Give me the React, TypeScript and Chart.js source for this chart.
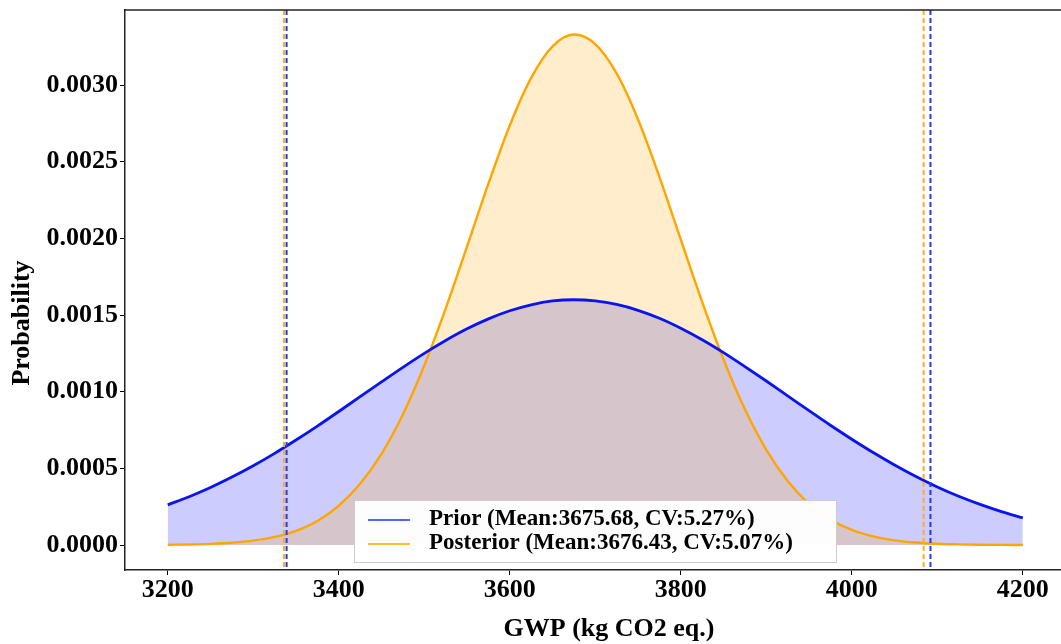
import React, { useEffect, useRef } from 'react';
import { Chart, registerables } from 'chart.js';

Chart.register(...registerables);

// GWP sample positions (kg CO2 eq.)
const gwp = [
  3200, 3225, 3250, 3275, 3300, 3325, 3350, 3375, 3400, 3425, 3450, 3475, 3500, 3525,
  3550, 3575, 3600, 3625, 3650, 3675, 3700, 3725, 3750, 3775, 3800, 3825, 3850, 3875,
  3900, 3925, 3950, 3975, 4000, 4025, 4050, 4075, 4100, 4125, 4150, 4175, 4200,
];

// Prior probability density
const prior = [
  0.000262, 0.000315, 0.000375, 0.000443, 0.000517, 0.000598, 0.000685, 0.000776,
  0.000871, 0.000968, 0.001064, 0.001159, 0.00125, 0.001334, 0.00141, 0.001475,
  0.001528, 0.001567, 0.001592, 0.0016, 0.001592, 0.001569, 0.001531, 0.001479,
  0.001414, 0.001339, 0.001255, 0.001164, 0.00107, 0.000973, 0.000876, 0.000781,
  0.00069, 0.000603, 0.000522, 0.000447, 0.000379, 0.000318, 0.000265, 0.000218,
  0.000177,
];

// Posterior probability density
const posterior = [
  0.0000016, 0.0000036, 0.0000074, 0.0000148, 0.0000285, 0.0000526, 0.0000929, 0.000157,
  0.000256, 0.000399, 0.000595, 0.000852, 0.001171, 0.001542, 0.001947, 0.002357,
  0.002737, 0.003047, 0.003253, 0.00333, 0.003268, 0.003076, 0.002776, 0.002402,
  0.001993, 0.001586, 0.00121, 0.000885, 0.000621, 0.000418, 0.000269, 0.000167,
  0.0000988, 0.0000562, 0.0000306, 0.000016, 0.000008, 0.0000039, 0.0000018, 0.0000008,
  0.0000003,
];

// Interval bounds (dashed vertical lines)
const priorBounds = [3339, 4092];
const posteriorBounds = [3336, 4084];

const xTicks = [3200, 3400, 3600, 3800, 4000, 4200];
const yTicks = [0, 0.0005, 0.001, 0.0015, 0.002, 0.0025, 0.003];

const legendLabels = ['Prior (Mean:3675.68, CV:5.27%)', 'Posterior (Mean:3676.43, CV:5.07%)'];
const xTitle = 'GWP (kg CO2 eq.)';
const yTitle = 'Probability';

const FONT = "'Liberation Serif', 'Times New Roman', serif";
const BLUE = '#0a14ee';
const ORANGE = '#ffa500';

export default function App() {
  const ref = useRef<HTMLCanvasElement | null>(null);

  useEffect(() => {
    if (!ref.current) return;

    const overlay = {
      id: 'overlay',
      afterDatasetsDraw(chart: any) {
        const { ctx, chartArea, scales } = chart;
        const xs = scales.x;
        ctx.save();
        ctx.lineWidth = 2;
        ctx.setLineDash([5, 3]);
        const draw = (v: number, c: string) => {
          const px = xs.getPixelForValue(v);
          ctx.strokeStyle = c;
          ctx.beginPath();
          ctx.moveTo(px, chartArea.top);
          ctx.lineTo(px, chartArea.bottom);
          ctx.stroke();
        };
        posteriorBounds.forEach((v) => draw(v, '#ffad1a'));
        priorBounds.forEach((v) => draw(v, '#2238ff'));
        ctx.restore();
      },
      afterDraw(chart: any) {
        const { ctx, chartArea } = chart;
        ctx.save();
        // top border
        ctx.strokeStyle = '#222';
        ctx.lineWidth = 1.5;
        ctx.beginPath();
        ctx.moveTo(chartArea.left, chartArea.top);
        ctx.lineTo(chart.width, chartArea.top);
        ctx.stroke();

        // legend
        const lx = 354, ly = 500, lw = 482, lh = 62;
        ctx.fillStyle = 'rgba(255,255,255,0.96)';
        ctx.fillRect(lx, ly, lw, lh);
        ctx.strokeStyle = '#cccccc';
        ctx.lineWidth = 1;
        ctx.strokeRect(lx + 0.5, ly + 0.5, lw, lh);
        const colors = ['#4d66ff', '#ffbf26'];
        const rows = [520, 544];
        ctx.font = `bold 23px ${FONT}`;
        ctx.textBaseline = 'middle';
        ctx.textAlign = 'left';
        legendLabels.forEach((t, i) => {
          ctx.strokeStyle = colors[i];
          ctx.lineWidth = 2;
          ctx.beginPath();
          ctx.moveTo(368, rows[i]);
          ctx.lineTo(410, rows[i]);
          ctx.stroke();
          ctx.fillStyle = '#000';
          ctx.fillText(t, 429, rows[i] - 1);
        });

        // axis titles
        ctx.font = `bold 26px ${FONT}`;
        ctx.fillStyle = '#000';
        ctx.textAlign = 'center';
        ctx.textBaseline = 'middle';
        ctx.fillText(xTitle, 609, 629);
        ctx.translate(22, 323);
        ctx.rotate(-Math.PI / 2);
        ctx.fillText(yTitle, 0, 0);
        ctx.restore();
      },
    };

    const priorPts = gwp.map((x, i) => ({ x, y: prior[i] }));
    const postPts = gwp.map((x, i) => ({ x, y: posterior[i] }));

    const chart = new Chart(ref.current, {
      type: 'line',
      data: {
        datasets: [
          {
            label: 'Prior',
            data: priorPts,
            borderColor: BLUE,
            borderWidth: 2.8,
            fill: false,
            pointRadius: 0,
            cubicInterpolationMode: 'monotone',
            order: 0,
          },
          {
            label: 'Posterior',
            data: postPts,
            borderColor: ORANGE,
            borderWidth: 2.4,
            fill: false,
            pointRadius: 0,
            cubicInterpolationMode: 'monotone',
            order: 1,
          },
          {
            label: 'Posterior area',
            data: postPts,
            borderWidth: 0,
            borderColor: 'rgba(0,0,0,0)',
            backgroundColor: 'rgba(255,165,0,0.2)',
            fill: 'origin',
            pointRadius: 0,
            cubicInterpolationMode: 'monotone',
            order: 2,
          },
          {
            label: 'Prior area',
            data: priorPts,
            borderWidth: 0,
            borderColor: 'rgba(0,0,0,0)',
            backgroundColor: 'rgba(0,0,255,0.2)',
            fill: 'origin',
            pointRadius: 0,
            cubicInterpolationMode: 'monotone',
            order: 3,
          },
        ],
      },
      options: {
        animation: false,
        responsive: false,
        layout: { padding: { top: 10, right: 12, left: 0, bottom: 0 } },
        plugins: {
          legend: { display: false },
          tooltip: { enabled: false },
        },
        scales: {
          x: {
            type: 'linear',
            min: 3150,
            max: 4247,
            afterBuildTicks: (s: any) => {
              s.ticks = xTicks.map((v) => ({ value: v }));
            },
            afterFit: (s: any) => {
              s.height = 74;
              s.paddingLeft = 0;
              s.paddingRight = 0;
            },
            grid: { display: true, drawOnChartArea: false, drawTicks: true, tickLength: 5, color: '#000' },
            border: { display: true, color: '#222', width: 1.5 },
            ticks: {
              color: '#000',
              padding: 0,
              maxRotation: 0,
              font: { family: FONT, size: 26, weight: 'bold' },
              callback: (v: any) => String(v),
            },
          },
          y: {
            type: 'linear',
            min: -0.000163,
            max: 0.00349,
            afterBuildTicks: (s: any) => {
              s.ticks = yTicks.map((v) => ({ value: v }));
            },
            afterFit: (s: any) => {
              s.width = 125;
              s.paddingTop = 0;
              s.paddingBottom = 0;
            },
            grid: { display: true, drawOnChartArea: false, drawTicks: true, tickLength: 5, color: '#000' },
            border: { display: true, color: '#222', width: 1.5 },
            ticks: {
              color: '#000',
              padding: 2,
              font: { family: FONT, size: 26, weight: 'bold' },
              callback: (v: any) => Number(v).toFixed(4),
            },
          },
        },
      } as any,
      plugins: [overlay],
    });

    return () => chart.destroy();
  }, []);

  return (
    <div style={{ position: 'fixed', left: 0, top: 0, width: 1075, height: 644, background: '#fff' }}>
      <canvas ref={ref} width={1075} height={644} style={{ display: 'block' }} />
    </div>
  );
}
